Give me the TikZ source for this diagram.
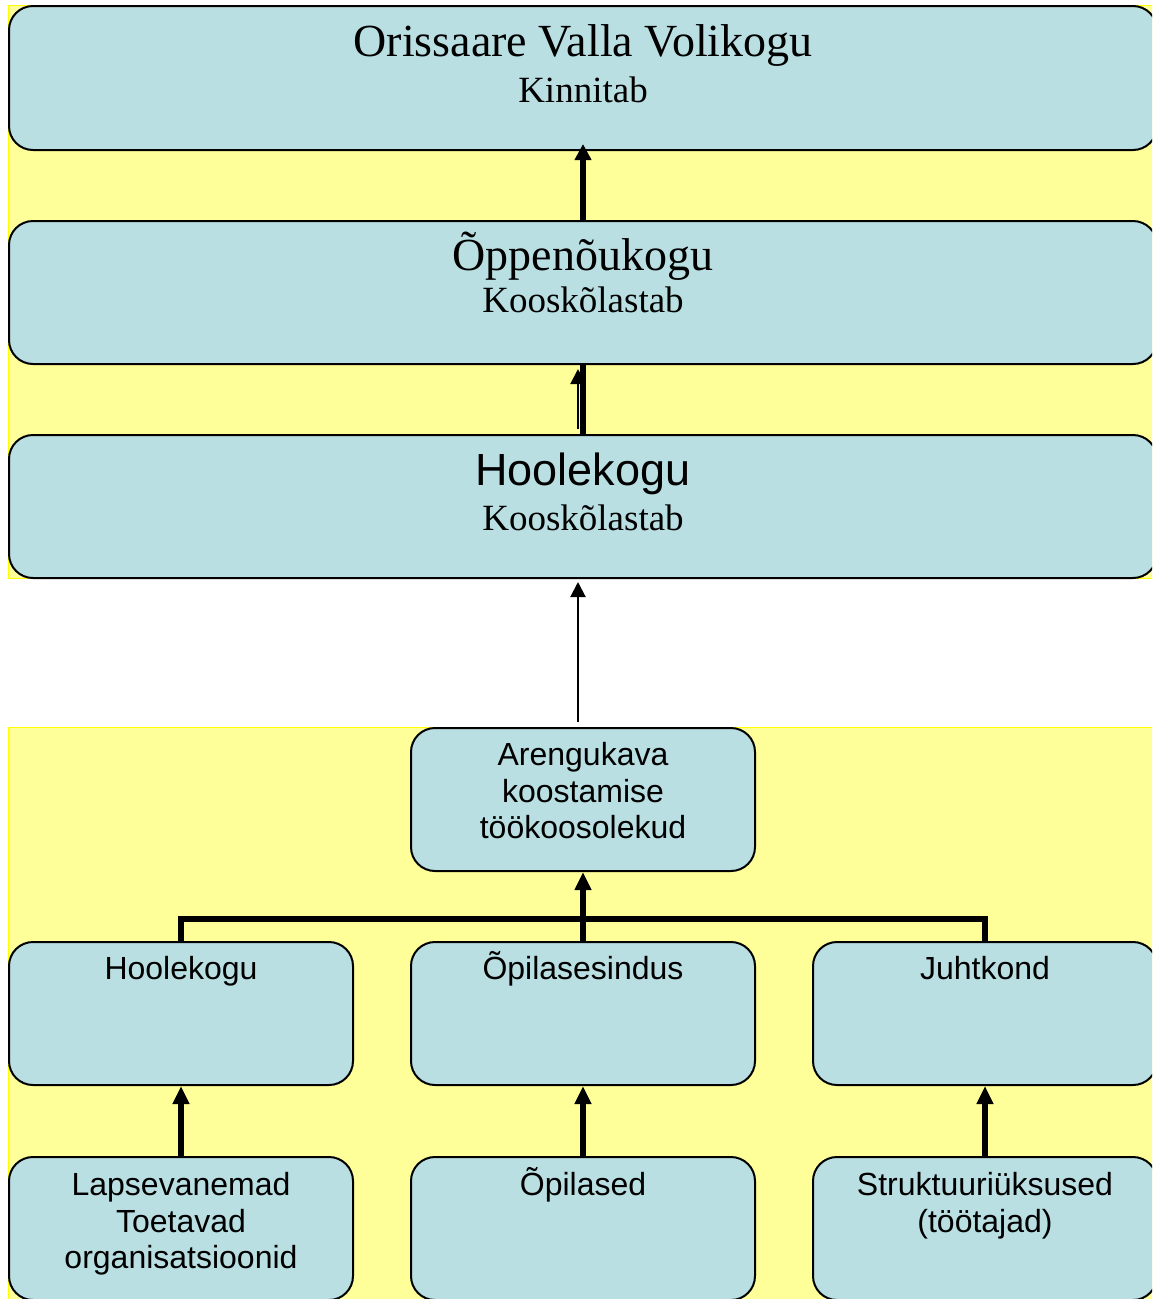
\documentclass[tikz,border=0pt]{standalone}
\usepackage{fontspec}
\setmainfont{Liberation Serif}
\setsansfont{Liberation Sans}
\usetikzlibrary{arrows.meta}
\definecolor{boxblue}{RGB}{185,223,226}
\definecolor{bgyellow}{RGB}{255,255,153}
\definecolor{edgeyellow}{RGB}{255,255,0}
\begin{document}
\begin{tikzpicture}[x=1pt,y=-1pt,
  box/.style={draw=black, line width=2pt, fill=boxblue, rounded corners=24pt, inner sep=0pt, minimum height=143pt},
  widebox/.style={box, minimum width=1148pt},
  smallbox/.style={box, minimum width=344pt},
  txt/.style={inner sep=0pt, anchor=base},
  serifbig/.style={txt, font=\fontsize{46}{50}\selectfont\rmfamily},
  serifmid/.style={txt, font=\fontsize{37}{42}\selectfont\rmfamily},
  sansbig/.style={txt, font=\fontsize{45}{50}\selectfont\sffamily},
  sanssmall/.style={txt, font=\fontsize{32}{36}\selectfont\sffamily},
  thickarrow/.style={line width=6pt, -{Triangle[length=16pt,width=16pt]}},
  thinarrow/.style={line width=2pt, -{Triangle[length=15pt,width=15pt]}},
  thickline/.style={line width=6pt},
  bg/.style={fill=bgyellow, draw=edgeyellow, line width=1pt}
]
\useasboundingbox (0,0) rectangle (1152,1299);
\clip (0,0) rectangle (1152,1299);

% backgrounds
\path[bg] (8,5) rectangle (1160,578);
\path[bg] (8,727) rectangle (1160,1305);

% top boxes
\node[widebox, minimum height=144pt] (b1) at (583,78) {};
\node[widebox] (b2) at (583,292.5) {};
\node[widebox] (b3) at (583,506.5) {};

% bottom boxes
\node[smallbox] (b4) at (583,799.5) {};
\node[smallbox] (l2) at (181,1013.5) {};
\node[smallbox] (m2) at (583,1013.5) {};
\node[smallbox] (r2) at (985,1013.5) {};
\node[smallbox] (l3) at (181,1228.5) {};
\node[smallbox] (m3) at (583,1228.5) {};
\node[smallbox] (r3) at (985,1228.5) {};

% texts
\node[serifbig] (t1a) at (583,56) {Orissaare Valla Volikogu};
\node[serifmid] (t1b) at (583,102) {Kinnitab};
\node[serifbig] (t2a) at (583,270) {Õppenõukogu};
\node[serifmid] (t2b) at (583,312) {Kooskõlastab};
\node[sansbig] (t3a) at (583,485) {Hoolekogu};
\node[serifmid] (t3b) at (583,530) {Kooskõlastab};

\node[sanssmall] (t4a) at (583,765) {Arengukava};
\node[sanssmall] (t4b) at (583,802) {koostamise};
\node[sanssmall] (t4c) at (583,838) {töökoosolekud};

\node[sanssmall] (tl2) at (181,979) {Hoolekogu};
\node[sanssmall] (tm2) at (583,979) {Õpilasesindus};
\node[sanssmall] (tr2) at (985,979) {Juhtkond};

\node[sanssmall] (tl3a) at (181,1195) {Lapsevanemad};
\node[sanssmall] (tl3b) at (181,1232) {Toetavad};
\node[sanssmall] (tl3c) at (181,1268) {organisatsioonid};
\node[sanssmall] (tm3) at (583,1195) {Õpilased};
\node[sanssmall] (tr3a) at (985,1195) {Struktuuriüksused};
\node[sanssmall] (tr3b) at (985,1232) {(töötajad)};

% connectors top
\draw[thickarrow] (b2.north) -- ([yshift=7pt]b1.south);
\draw[thickline] (b3.north) -- (b2.south);
\draw[thinarrow] ([xshift=-5pt,yshift=5pt]b3.north) -- ([xshift=-5pt,yshift=-4pt]b2.south);
\coordinate (c3) at (578,722);
\draw[thinarrow] (c3) -- ([yshift=-3pt]c3 |- b3.south);

% bottom tree
\coordinate (j) at (583,919);
\draw[thickline, line join=miter] (l2.north) |- (j) -| (r2.north);
\draw[thickarrow, -{Triangle[length=18pt,width=16pt]}] (m2.north) -- (b4.south);
\draw[thickarrow, -{Triangle[length=18pt,width=16pt]}] (l3.north) -- (l2.south);
\draw[thickarrow, -{Triangle[length=18pt,width=16pt]}] (m3.north) -- (m2.south);
\draw[thickarrow, -{Triangle[length=18pt,width=16pt]}] (r3.north) -- (r2.south);
\end{tikzpicture}
\end{document}
